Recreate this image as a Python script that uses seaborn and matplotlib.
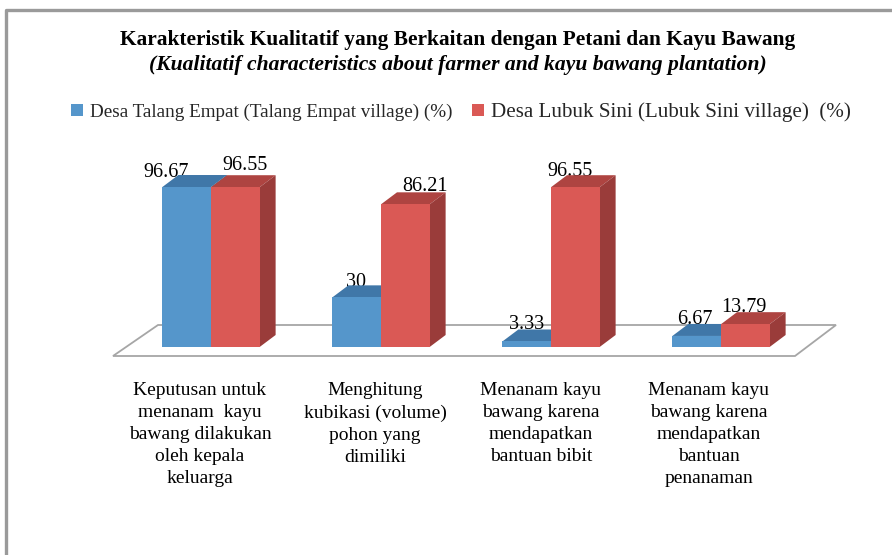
import matplotlib
matplotlib.use("Agg")
import matplotlib.pyplot as plt
from matplotlib.lines import Line2D
from matplotlib.patches import Polygon
from matplotlib.transforms import ScaledTranslation
import seaborn as sns
import pandas as pd

# values
categories = [
    "Keputusan untuk\nmenanam  kayu\nbawang dilakukan\noleh kepala\nkeluarga",
    "Menghitung\nkubikasi (volume)\npohon yang\ndimiliki",
    "Menanam kayu\nbawang karena\nmendapatkan\nbantuan bibit",
    "Menanam kayu\nbawang karena\nmendapatkan\nbantuan\npenanaman",
]
talang_empat = [96.67, 30, 3.33, 6.67]
lubuk_sini = [96.55, 86.21, 96.55, 13.79]
series_names = ["Desa Talang Empat (Talang Empat village) (%)",
                "Desa Lubuk Sini (Lubuk Sini village)  (%)"]
value_labels = [["96.67", "30", "3.33", "6.67"], ["96.55", "86.21", "96.55", "13.79"]]

front_colors = ["#5596CB", "#DA5955"]
top_colors = ["#4077A8", "#AE4441"]
side_colors = ["#3F6F99", "#9A3C3A"]

W, H = 892, 555
# hand placed label offsets (pixels from bar centre / top)
label_dx = [[-21, -1, 0, -2], [10, 20, -5, -1]]
label_dy = [[15, 15, 17, 16], [22, 18, 16, 17]]

df = pd.DataFrame({
    "category": categories * 2,
    "value": talang_empat + lubuk_sini,
    "series": [series_names[0]] * 4 + [series_names[1]] * 4,
})

sns.set_theme(style="white")
plt.rcParams["font.family"] = ["Liberation Serif", "DejaVu Serif"]


def px(x, y):
    return x / W, 1 - y / H


fig = plt.figure(figsize=(W / 100, H / 100), dpi=100, facecolor="white")
# axes placed so that the groups land under the reference positions
ax = fig.add_axes([126 / W, 1 - 347 / H, 680 / W, 165.5 / H])
ax.patch.set_visible(False)

sns.barplot(data=df, x="category", y="value", hue="series", palette=front_colors,
            width=0.572, gap=0, saturation=1, errorbar=None, linewidth=0, ax=ax, zorder=3)
ax.set_xlim(-0.5, 3.5)
ax.set_ylim(0, 100)
ax.set_xlabel("")
ax.set_ylabel("")
ax.set_yticks([])
sns.despine(ax=ax, left=True, bottom=True)

# 3D look: top and side faces worked out from the bars
depth_x = 16 / 170
depth_y = 12 / 1.655
for s, container in enumerate(ax.containers):
    for i, bar in enumerate(container):
        x0 = bar.get_x()
        x1 = x0 + bar.get_width()
        top = bar.get_height()
        bar.set_zorder(3 + s * 2)
        ax.add_patch(Polygon([(x0, top), (x1, top), (x1 + depth_x, top + depth_y),
                              (x0 + depth_x, top + depth_y)],
                             facecolor=top_colors[s], edgecolor="none",
                             clip_on=False, zorder=2 + s * 2))
        ax.add_patch(Polygon([(x1, 0), (x1 + depth_x, depth_y), (x1 + depth_x, top + depth_y),
                              (x1, top)],
                             facecolor=side_colors[s], edgecolor="none",
                             clip_on=False, zorder=2 + s * 2))
        # labels sit behind the bars, the top faces cut into them as in the original
        ax.annotate(value_labels[s][i], (x0 + bar.get_width() / 2, top),
                    xytext=(label_dx[s][i] * 0.72, label_dy[s][i] * 0.72),
                    textcoords="offset points", ha="center", va="center",
                    fontsize=14.5, color="black", zorder=1.5, annotation_clip=False)

# category labels
ax.tick_params(axis="x", length=0, pad=25.5)
ax.set_xticks(range(4))
ax.set_xticklabels(categories, fontsize=14, linespacing=1.38, ha="center", va="top",
                   color="black")
label_shift = [-11, -6, -10, -12]
for label, shift in zip(ax.get_xticklabels(), label_shift):
    label.set_transform(label.get_transform() + ScaledTranslation(shift / 100, 0, fig.dpi_scale_trans))

# floor
fig.add_artist(Polygon([px(113, 356), px(795, 356), px(836, 325), px(158, 325)],
                       closed=True, facecolor="white", edgecolor="#A6A6A6", linewidth=1.3,
                       transform=fig.transFigure, zorder=-1))
# outer chart frame
fig.add_artist(Line2D([6 / W, 6 / W, 1], [0, 1 - 10 / H, 1 - 10 / H], color="#9A9A9A",
                      linewidth=2.4, transform=fig.transFigure))

# title
fig.text(*px(458, 40), "Karakteristik Kualitatif yang Berkaitan dengan Petani dan Kayu Bawang",
         ha="center", va="center", fontsize=15.4, fontweight="bold", color="black")
fig.text(*px(458, 65), "(Kualitatif characteristics about farmer and kayu bawang plantation)",
         ha="center", va="center", fontsize=15.6, fontweight="bold", fontstyle="italic",
         color="black")

# legend
handles, labels = ax.get_legend_handles_labels()
ax.get_legend().remove()
legend = fig.legend(handles, labels, loc="center", bbox_to_anchor=px(461, 112), ncols=2,
                    frameon=False, fontsize=14, handlelength=0.62, handleheight=0.62,
                    handletextpad=0.35, columnspacing=1.0)
legend.get_texts()[0].set_fontsize(13.8)
legend.get_texts()[1].set_fontsize(15.15)

fig.savefig("out.png", dpi=100)
plt.close(fig)
